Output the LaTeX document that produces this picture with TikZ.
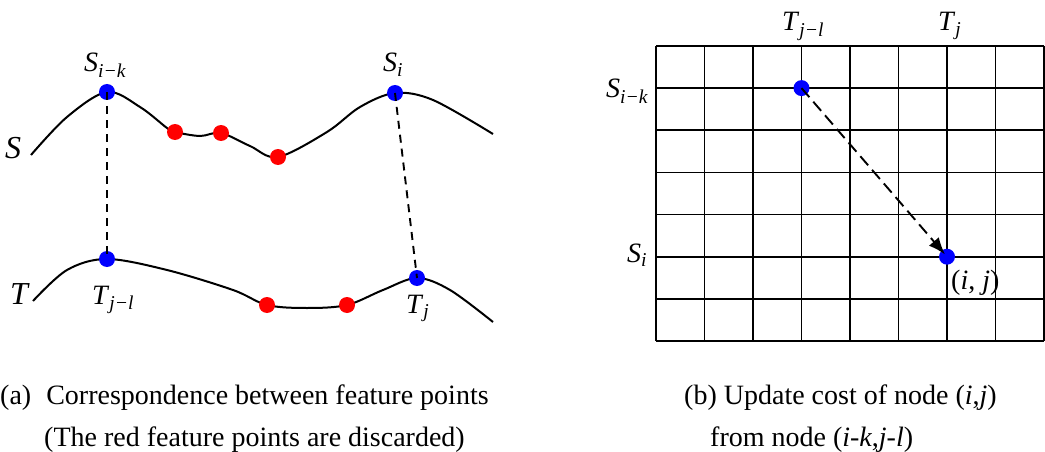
\documentclass[tikz,border=0pt]{standalone}
\usepackage{fontspec}
\setmainfont{Liberation Serif}
\usetikzlibrary{arrows.meta}
\newcommand{\lbl}[2]{\textit{#1}\textsubscript{\textit{#2}}}
\begin{document}
\begin{tikzpicture}[x=1pt,y=-1pt,
  curve/.style={line width=2pt},
  bdot/.style={circle,fill=blue,inner sep=0pt,minimum size=16pt},
  rdot/.style={circle,fill=red,inner sep=0pt,minimum size=16pt},
  dashline/.style={line width=1.9pt,dash pattern=on 8pt off 6pt},
  arrline/.style={line width=1.9pt,dash pattern=on 12pt off 6pt},
  gridline/.style={line width=1.8pt},
  biglab/.style={font=\fontsize{32}{32}\selectfont,inner sep=0pt,anchor=base west},
  lab/.style={font=\fontsize{28}{28}\selectfont,inner sep=0pt,anchor=base west},
  glab/.style={font=\fontsize{28}{28}\selectfont,inner sep=0pt,anchor=base west},
  captxt/.style={font=\fontsize{28}{28}\selectfont,inner sep=0pt,anchor=base west}]
\useasboundingbox (0,0) rectangle (1045,452);

% ---------- left panel ----------
\draw[curve] plot[smooth,tension=0.55] coordinates {
  (31,155) (67,117) (107,92) (140,107) (167,128) (175,132) (200,136) (221,133)
  (250,146) (278,157) (327,132) (360,107) (395,93) (433,100) (493,134)};
\draw[curve] plot[smooth,tension=0.55] coordinates {
  (33,301) (67,270) (107,259) (167,270) (233,290) (267,305) (307,308) (347,305)
  (383,290) (417,278) (450,290) (493,322)};

\node[bdot] (sik) at (107,92) {};
\node[bdot] (si) at (395,93) {};
\node[bdot] (tjl) at (107,259) {};
\node[bdot] (tj) at (417,278) {};
\node[rdot] (r1) at (175,132) {};
\node[rdot] (r2) at (221,133) {};
\node[rdot] (r3) at (278,157) {};
\node[rdot] (r4) at (267,305) {};
\node[rdot] (r5) at (347,305) {};

\draw[dashline] (sik.center) -- (tjl.center);
\draw[dashline] (si.center) -- (tj.center);

\node[biglab] (labS) at (5,158) {\textit{S}};
\node[biglab] (labT) at (10,304) {\textit{T}};
\node[lab] (labSik) at (84,72) {\lbl{S}{i−k}};
\node[lab] (labSi) at (383,72) {\lbl{S}{i}};
\node[lab] (labTjl) at (92,304) {\lbl{T}{j−l}};
\node[lab] (labTj) at (406,313) {\lbl{T}{j}};

% ---------- right panel ----------
\foreach \c in {0,...,8} {
  \draw[gridline] ({656+48.5*\c},46) -- ({656+48.5*\c},341);
}
\foreach \r in {0,...,7} {
  \draw[gridline] (656,{46+42.143*\r}) -- (1044,{46+42.143*\r});
}
\node[bdot] (g1) at (801.5,88.1) {};
\node[bdot] (g2) at (947,256.7) {};
\draw[arrline,-{Latex[length=17pt,width=13pt]},shorten >=3pt] (g1.center) -- (g2.center);

\node[glab] (gT1) at (782,31) {\lbl{T}{j−l}};
\node[glab] (gT2) at (938,31) {\lbl{T}{j}};
\node[glab] (gS1) at (606,98) {\lbl{S}{i−k}};
\node[glab] (gS2) at (627,262) {\lbl{S}{i}};
\node[glab] (gij) at (951,289) {(\textit{i}, \textit{j})};

% ---------- captions ----------
\node[captxt] (capa1) at (0,404) {(a)\hspace{15pt}Correspondence between feature points};
\node[captxt] (capa2) at (44,446) {(The red feature points are discarded)};
\node[captxt] (capb1) at (684,404) {(b) Update cost of node (\textit{i},\textit{j})};
\node[captxt] (capb2) at (710,446) {from node (\textit{i}-\textit{k},\textit{j}-\textit{l})};
\end{tikzpicture}
\end{document}
